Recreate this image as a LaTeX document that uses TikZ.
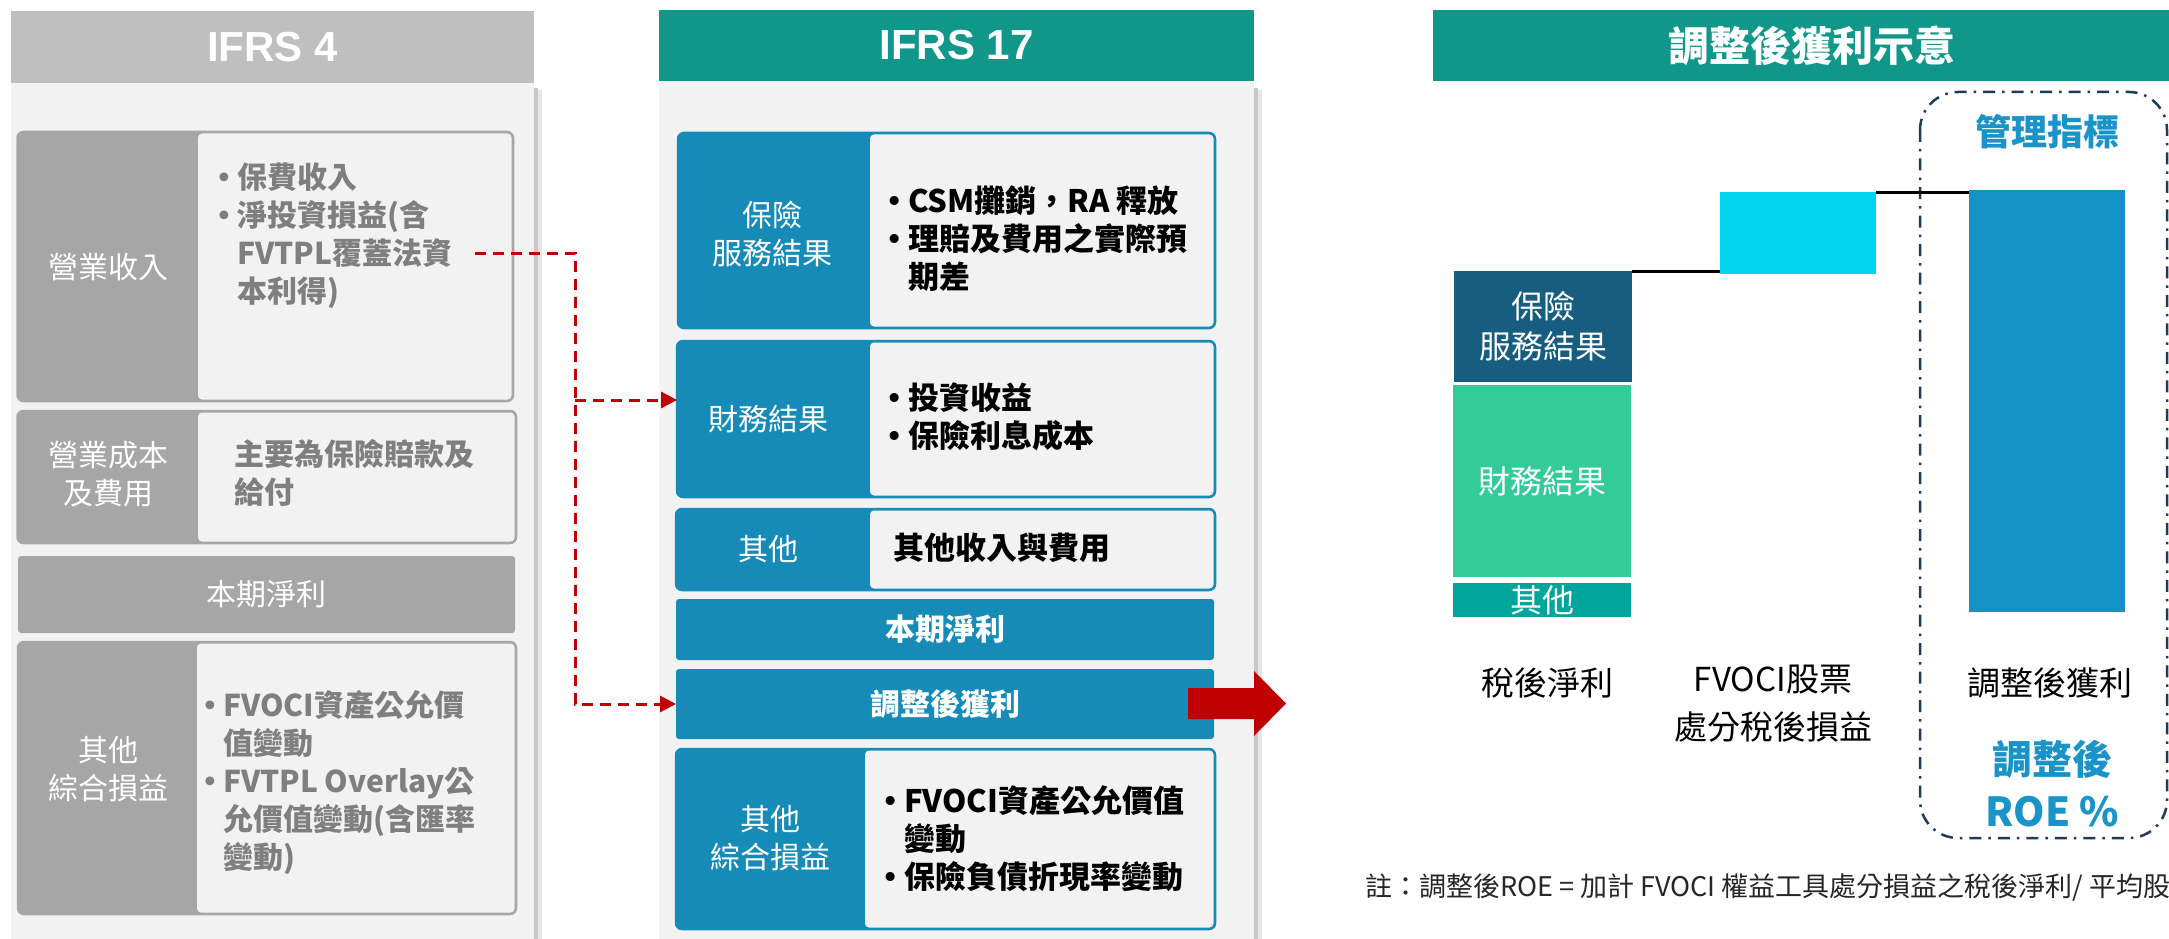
\documentclass[tikz,border=0pt]{standalone}
\usepackage{fontspec}
\setmainfont{Noto Sans CJK TC}
\newfontfamily\arialf{Liberation Sans}
\newfontfamily\dejavu{DejaVu Sans}
\usetikzlibrary{arrows.meta,calc}
\definecolor{hdrgray}{HTML}{BFBFBF}
\definecolor{panelbg}{HTML}{F2F2F2}
\definecolor{lgray}{HTML}{A6A6A6}
\definecolor{tgray}{HTML}{7F7F7F}
\definecolor{tealh}{HTML}{11968A}
\definecolor{mblue}{HTML}{178BB8}
\definecolor{dred}{HTML}{C00000}
\definecolor{bardark}{HTML}{175D80}
\definecolor{bargreen}{HTML}{33CC99}
\definecolor{barteal}{HTML}{00A59C}
\definecolor{barcyan}{HTML}{00D4EF}
\definecolor{barblue}{HTML}{1592C4}
\definecolor{navyd}{HTML}{1F3B57}
\definecolor{mgmt}{HTML}{1A93C8}
\definecolor{notec}{HTML}{262626}
\newcommand\fsz[2]{\fontsize{#1}{#2}\selectfont}
\newcommand\bu[1]{\makebox[#1][r]{{\dejavu\mdseries •}\kern4pt}}
\newcommand\ind[1]{\hspace*{#1}}
% name, x1, y1, x2, y2, xm, colour
\newcommand\twobox[7]{%
  \node[boxbase, minimum width={#4-#2}, minimum height={#5-#3}, fill=#7, draw=#7] (#1) at (#2,#3) {};
  \fill[panelbg, rounded corners=4pt] (#6,#3+1.5) rectangle (#4-1.5,#5-1.5);
}
\tikzset{
  boxbase/.style={anchor=north west, inner sep=0pt, outer sep=0pt, line width=2.5pt, rounded corners=6pt},
  plainbox/.style={anchor=north west, inner sep=0pt, outer sep=0pt, rounded corners=3pt},
  hdr/.style={text=white, font=\arialf\bfseries\fsz{42}{50}},
  lbl/.style={text=white, font=\fsz{30}{38}, align=center, inner sep=0pt},
  bul4/.style={text=tgray, font=\bfseries\fsz{30}{38}, align=left, anchor=base west, inner sep=0pt},
  bul17/.style={text=black, font=\bfseries\fsz{31}{38}, align=left, anchor=base west, inner sep=0pt},
  redash/.style={dred, line width=3pt, dash pattern=on 11pt off 7pt, -{Triangle[length=16pt,width=16pt]}},
  bar/.style={anchor=north west, inner sep=0pt, outer sep=0pt, text=white, font=\fsz{32}{40}, align=center},
  clab/.style={text=black, font=\fsz{33}{48}, align=center, inner sep=0pt},
  conn/.style={black, line width=3pt},
}
\begin{document}
\begin{tikzpicture}[x=1pt,y=-1pt]
\useasboundingbox (0,0) rectangle (2169,939);
\fill[white] (0,0) rectangle (2169,939);

% ===== IFRS 4 =====
\fill[black!22] (534,88) rectangle (538,939);
\fill[black!10] (538,90) rectangle (542,939);
\fill[panelbg] (11,83) rectangle (534,939);
\node[anchor=north west, inner sep=0, outer sep=0, fill=hdrgray, minimum width=523pt, minimum height=72pt] (h4) at (11,11) {};
\node[hdr] at (h4.center) {IFRS 4};

\twobox{inc}{17.5}{132}{513}{401}{198}{lgray}
\node[lbl] at (108,267) {營業收入};
\node[bul4] at (221,302) {\bu{16pt}保費收入\\\bu{16pt}淨投資損益(含\\\ind{16pt}FVTPL覆蓋法資\\\ind{16pt}本利得)};
\coordinate (dstart) at (475,253);

\twobox{cost}{17.5}{411}{516}{543}{198}{lgray}
\node[lbl] at (108,474) {營業成本\\及費用};
\node[bul4] at (234,503) {主要為保險賠款及\\給付};

\node[plainbox, fill=lgray, minimum width=497pt, minimum height=77pt] (net4) at (18,556) {};
\node[lbl] at (net4.center) {本期淨利};

\twobox{oci4}{18}{642}{516}{914}{197}{lgray}
\node[lbl] at (108,769) {其他\\綜合損益};
\node[bul4] at (207,868) {\bu{16pt}FVOCI資產公允價\\\ind{16pt}值變動\\\bu{16pt}FVTPL Overlay公\\\ind{16pt}允價值變動(含匯率\\\ind{16pt}變動)};

% ===== IFRS 17 =====
\fill[black!22] (1254,88) rectangle (1258,939);
\fill[black!10] (1258,90) rectangle (1262,939);
\fill[panelbg] (659,81) rectangle (1254,939);
\node[anchor=north west, inner sep=0, outer sep=0, fill=tealh, minimum width=595pt, minimum height=71pt] (h17) at (659,10) {};
\node[hdr] at (h17.center) {IFRS 17};

\twobox{svc}{678}{133}{1215}{328}{870}{mblue}
\node[lbl] at (772,234) {保險\\服務結果};
\node[bul17] at (894,288) {\bu{14pt}CSM攤銷，RA 釋放\\\bu{14pt}理賠及費用之實際預\\\ind{14pt}期差};

\twobox{fin}{677}{341}{1215}{497}{870}{mblue}
\node[lbl] at (768,419) {財務結果};
\node[bul17] at (894,447) {\bu{14pt}投資收益\\\bu{14pt}保險利息成本};

\twobox{oth}{676}{509}{1215}{590}{870}{mblue}
\node[lbl] at (768,549) {其他};
\node[bul17] at (893,559) {其他收入與費用};

\node[plainbox, fill=mblue, minimum width=538pt, minimum height=61pt] (net17) at (676,599) {};
\node[lbl, font=\bfseries\fsz{30}{38}] at (net17.center) {本期淨利};

\node[plainbox, fill=mblue, minimum width=538pt, minimum height=70pt] (adj) at (676,669) {};
\node[lbl, font=\bfseries\fsz{30}{38}] at (adj.center) {調整後獲利};

\twobox{oci17}{676}{749}{1215}{929}{865}{mblue}
\node[lbl] at (770,838) {其他\\綜合損益};
\node[bul17] at (889,888) {\bu{15pt}FVOCI資產公允價值\\\ind{15pt}變動\\\bu{15pt}保險負債折現率變動};

% dashed connectors
\coordinate (dcorner) at (575,253);
\coordinate (j1) at (575,400);
\draw[redash] (dstart) -- (dcorner) |- (adj.west);
\draw[redash] (j1) -- (j1 -| fin.west);

% block arrow
\fill[dred] (1188,688) -- (1254,688) -- (1254,671) -- (1286,703.5) -- (1254,736) -- (1254,719) -- (1188,719) -- cycle;

% ===== right chart =====
\node[anchor=north west, inner sep=0, outer sep=0, fill=tealh, minimum width=757pt, minimum height=71pt] (hr) at (1433,10) {};
\node[text=white, font=\bfseries\fsz{41}{48}] at (1812,46) {調整後獲利示意};

\draw[navyd, line width=2.5pt, dash pattern=on 12pt off 7pt on 2.5pt off 7pt, rounded corners=38pt] (1920,92) rectangle (2167,838);
\node[text=mgmt, font=\bfseries\fsz{36}{44}] at (2047,132) {管理指標};

\node[bar, fill=bardark, minimum width=178pt, minimum height=111pt] (b1) at (1454,271) {保險\\服務結果};
\node[bar, fill=bargreen, minimum width=178pt, minimum height=192pt] (b2) at (1453,385) {財務結果};
\node[bar, fill=barteal, minimum width=178pt, minimum height=34pt] (b3) at (1453,583) {};
\node[text=white, font=\fsz{32}{40}, inner sep=0] at (b3.center) {其他};
\node[bar, fill=barcyan, minimum width=156pt, minimum height=82pt] (b4) at (1720,192) {};
\node[bar, fill=barblue, minimum width=156pt, minimum height=422pt] (b5) at (1969,190) {};
\draw[conn] (b1.north east) -- (b1.north east -| b4.west);
\draw[conn] (b4.north east) -- (b4.north east -| b5.west);

\node[clab] at (1547,683) {稅後淨利};
\node[clab] at (1773,704) {FVOCI股票\\處分稅後損益};
\node[clab] at (2050,683) {調整後獲利};
\node[text=mgmt, font=\bfseries\fsz{40}{52}, align=center, inner sep=0] at (2052,784) {調整後\\ROE \%};

\node[anchor=west, text=notec, font=\fsz{27}{30}, inner sep=0] at (1365,888) {註：調整後ROE = 加計 FVOCI 權益工具處分損益之稅後淨利/ 平均股};
\end{tikzpicture}
\end{document}
